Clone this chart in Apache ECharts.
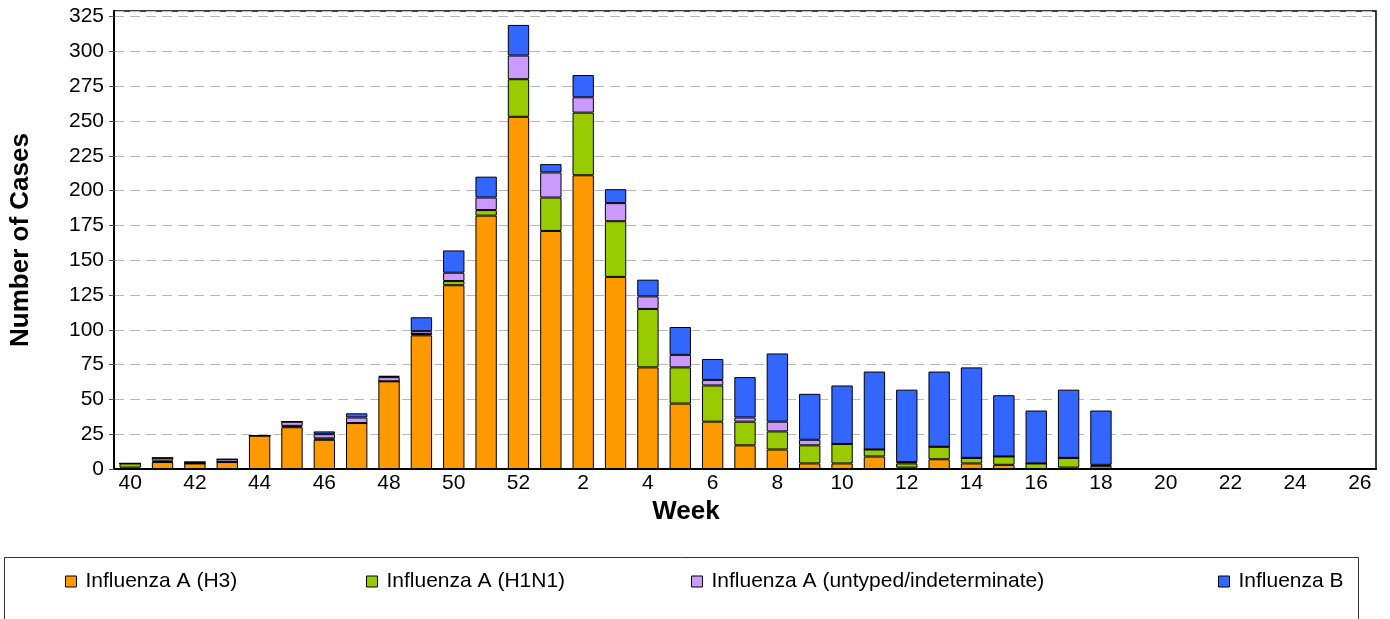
<!DOCTYPE html>
<html>
<head>
<meta charset="utf-8">
<script src="https://cdn.jsdelivr.net/npm/echarts@6/dist/echarts.min.js"></script>
<style>
  html, body { margin: 0; padding: 0; background: #fff; }
  #chart { width: 1390px; height: 619px; }
</style>
</head>
<body>
<div id="chart"></div>
<script>
var weeks = ['40','41','42','43','44','45','46','47','48','49','50','51','52',
  '1','2','3','4','5','6','7','8','9','10','11','12','13','14','15','16','17','18',
  '19','20','21','22','23','24','25','26'];

var h3 =       [1,5,4,5,24,30,21,33,63,96,132,182,253, 171,211,138,73,47,34,17,14,4,4,9,1,7,4,3,0,1,0, 0,0,0,0,0,0,0,0];
var h1n1 =     [3,1,0,0,0,1,1,0,0,1,3,4,27, 24,45,40,42,26,26,17,13,13,14,5,3,9,4,6,4,7,2, 0,0,0,0,0,0,0,0];
var untyped =  [0,2,1,2,0,3,3,4,3,2,6,9,17, 18,11,13,9,9,4,3,7,4,0,0,1,0,0,0,0,0,1, 0,0,0,0,0,0,0,0];
var fluB =     [0,0,0,0,0,0,2,3,1,10,16,15,22, 6,16,10,12,20,15,29,49,33,42,56,52,54,65,44,38,49,39, 0,0,0,0,0,0,0,0];

var yTicks = { min: 0, max: 329, step: 25 };

var seriesNames = ['Influenza A (H3)', 'Influenza A (H1N1)', 'Influenza A (untyped/indeterminate)', 'Influenza B'];
var seriesColors = ['#FF9900', '#99CC00', '#CC99FF', '#3366FF'];
var seriesData = [h3, h1n1, untyped, fluB];

var font = "'Liberation Sans', Arial, sans-serif";

var myChart = echarts.init(document.getElementById('chart'));

var series = seriesNames.map(function (name, i) {
  return {
    name: name,
    type: 'bar',
    stack: 'cases',
    barWidth: '66%',
    data: seriesData[i],
    itemStyle: {
      color: seriesColors[i],
      borderColor: '#000',
      borderWidth: 1
    }
  };
});

// one legend per entry, spread across the box like the original
var legendLeft = [65, 366, 691, 1218];
var legends = seriesNames.map(function (name, i) {
  return {
    data: [name],
    left: legendLeft[i],
    top: 571,
    icon: 'rect',
    itemWidth: 11,
    itemHeight: 11,
    padding: 0,
    itemStyle: { borderColor: '#000', borderWidth: 1 },
    textStyle: { fontFamily: font, fontSize: 21, color: '#000', padding: [0, 0, 0, 4] }
  };
});

option = {
  animation: false,
  backgroundColor: '#fff',
  grid: {
    left: 110,
    right: 14,
    top: 11,
    bottom: 150,
    show: true,
    borderColor: '#000',
    borderWidth: 1.5
  },
  legend: legends,
  graphic: [{
    type: 'rect',
    shape: { x: 4.5, y: 557.5, width: 1354, height: 80 },
    style: { fill: 'none', stroke: '#333', lineWidth: 1 }
  }],
  xAxis: {
    type: 'category',
    data: weeks,
    name: 'Week',
    nameLocation: 'middle',
    nameGap: 25,
    nameTextStyle: { fontFamily: font, fontSize: 26, fontWeight: 'bold', color: '#000', padding: [0, 118, 0, 0] },
    axisLine: { lineStyle: { color: '#000', width: 2 } },
    axisTick: { length: 6, interval: 0, lineStyle: { color: '#555' } },
    axisLabel: { interval: 1, margin: 4, fontFamily: font, fontSize: 21, color: '#000' }
  },
  yAxis: {
    type: 'value',
    min: yTicks.min,
    max: yTicks.max,
    interval: yTicks.step,
    name: 'Number of Cases',
    nameLocation: 'middle',
    nameGap: 80,
    nameTextStyle: { fontFamily: font, fontSize: 26, fontWeight: 'bold', color: '#000' },
    axisLine: { show: true, lineStyle: { color: '#000', width: 2 } },
    axisTick: { show: true, length: 5, lineStyle: { color: '#555' } },
    axisLabel: { showMaxLabel: false, margin: 10, fontFamily: font, fontSize: 21, color: '#000' },
    splitLine: { lineStyle: { color: '#bbb', type: [10, 6] } }
  },
  series: series
};
myChart.setOption(option);
</script>
</body>
</html>
